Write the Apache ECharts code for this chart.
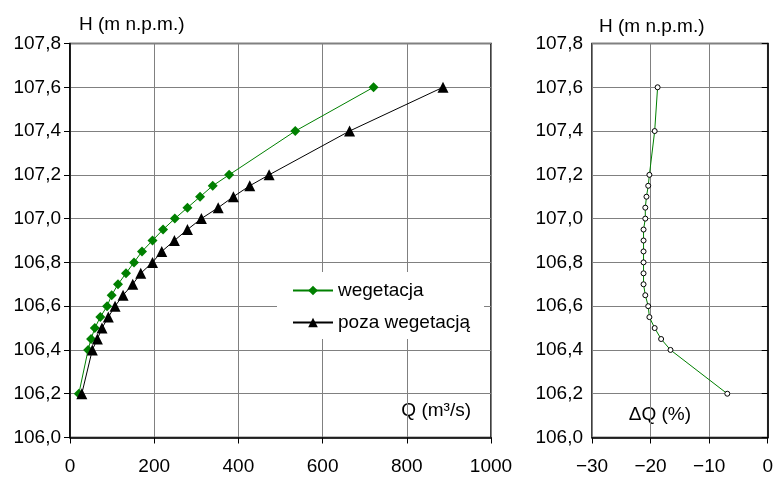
<!DOCTYPE html>
<html>
<head>
<meta charset="utf-8">
<script src="https://cdn.jsdelivr.net/npm/echarts@6/dist/echarts.min.js"></script>
<style>
html,body{margin:0;padding:0;background:#fff;}
#chartDom{width:776px;height:478px;}
</style>
</head>
<body>
<div id="chartDom"></div>
<script>
// rzedne zwierciadla wody H (m n.p.m.)
var levelsH = [106.2, 106.4, 106.45, 106.5, 106.55, 106.6, 106.65, 106.7, 106.75, 106.8, 106.85, 106.9, 106.95, 107.0, 107.05, 107.1, 107.15, 107.2, 107.4, 107.6];
// przeplywy Q (m3/s)
var qWegetacja = [21, 43, 50, 59, 72, 88, 99, 114, 133, 152, 171, 196, 221, 249, 279, 309, 339, 378, 535, 721];
var qPozaWegetacja = [28, 53, 65, 76, 91, 107, 126, 149, 168, 196, 218, 248, 279, 312, 352, 388, 427, 473, 664, 886];
// roznica dQ (%)
var deltaQ = [-6.9, -16.6, -18.2, -19.3, -20.2, -20.4, -20.9, -21.2, -21.2, -21.2, -21.2, -21.2, -21.2, -20.9, -20.9, -20.7, -20.4, -20.2, -19.3, -18.8];
var seriesNames = ['wegetacja', 'poza wegetacją'];

var FONT = 'Liberation Sans, Arial, sans-serif';

function pairs(xs, ys){
  return xs.map(function(x, i){ return [x, ys[i]]; });
}
function fmtH(v){
  return v.toFixed(1).replace('.', ',');
}
function fmtQ(v){
  return String(v);
}
function fmtMinus(v){
  return v < 0 ? '\u2212' + Math.abs(v) : String(v);
}

var labelStyle = {color: '#000', fontSize: 19, fontFamily: FONT};

function yAxisFor(grid){
  return {
    type: 'value', gridIndex: grid, min: 106, max: 107.8, interval: 0.2,
    axisLine: {show: true, lineStyle: {color: '#000', width: 1.5}},
    axisTick: {show: true, length: 6, lineStyle: {color: '#000'}},
    axisLabel: Object.assign({margin: 9, formatter: fmtH}, labelStyle),
    splitLine: {show: true, lineStyle: {color: '#808080', width: 1}}
  };
}

var chartDom = document.getElementById('chartDom');
var myChart = echarts.init(chartDom);
var option = {
  animation: false,
  backgroundColor: '#fff',
  grid: [
    {left: 70, top: 43.5, width: 421, height: 394, show: true, borderColor: '#000', borderWidth: 1.5, backgroundColor: 'transparent'},
    {left: 592, top: 43.5, width: 176, height: 394, show: true, borderColor: '#000', borderWidth: 1.5, backgroundColor: 'transparent'}
  ],
  xAxis: [
    {
      type: 'value', gridIndex: 0, min: 0, max: 1000, interval: 200,
      axisLine: {show: true, onZero: false, lineStyle: {color: '#000', width: 1.5}},
      axisTick: {show: true, length: 6, lineStyle: {color: '#000'}},
      axisLabel: Object.assign({margin: 20, formatter: fmtQ}, labelStyle),
      splitLine: {show: true, lineStyle: {color: '#808080', width: 1}}
    },
    {
      type: 'value', gridIndex: 1, min: -30, max: 0, interval: 10,
      axisLine: {show: true, onZero: false, lineStyle: {color: '#000', width: 1.5}},
      axisTick: {show: true, length: 6, lineStyle: {color: '#000'}},
      axisLabel: Object.assign({margin: 20, formatter: fmtMinus}, labelStyle),
      splitLine: {show: true, lineStyle: {color: '#808080', width: 1}}
    }
  ],
  yAxis: [yAxisFor(0), yAxisFor(1)],
  legend: {
    data: seriesNames,
    orient: 'vertical',
    left: 277, top: 272,
    padding: [9, 14, 7, 15],
    itemWidth: 40, itemHeight: 12, itemGap: 13,
    backgroundColor: '#fff',
    textStyle: {color: '#000', fontSize: 19, fontFamily: FONT}
  },
  graphic: [
    {type: 'text', left: 79, top: 15, style: {text: 'H (m n.p.m.)', fill: '#000', font: '19px ' + FONT}},
    {type: 'text', left: 599, top: 17, style: {text: 'H (m n.p.m.)', fill: '#000', font: '19px ' + FONT}},
    {type: 'text', right: 305, top: 401, style: {text: 'Q (m³/s)', fill: '#000', font: '19px ' + FONT}},
    {type: 'text', right: 85, top: 405, style: {text: 'ΔQ (%)', fill: '#000', font: '19px ' + FONT}}
  ],
  series: [
    {
      name: seriesNames[0], type: 'line', xAxisIndex: 0, yAxisIndex: 0,
      data: pairs(qWegetacja, levelsH),
      symbol: 'diamond', symbolSize: 10,
      lineStyle: {color: '#008000', width: 1},
      itemStyle: {color: '#008000'}
    },
    {
      name: seriesNames[1], type: 'line', xAxisIndex: 0, yAxisIndex: 0,
      data: pairs(qPozaWegetacja, levelsH),
      symbol: 'triangle', symbolSize: 11,
      lineStyle: {color: '#000', width: 1},
      itemStyle: {color: '#000'}
    },
    {
      name: 'dQ', type: 'line', xAxisIndex: 1, yAxisIndex: 1,
      data: pairs(deltaQ, levelsH),
      symbol: 'circle', symbolSize: 5,
      lineStyle: {color: '#008000', width: 1},
      itemStyle: {color: '#fff', borderColor: '#000', borderWidth: 1}
    }
  ]
};
option && myChart.setOption(option);
</script>
</body>
</html>
